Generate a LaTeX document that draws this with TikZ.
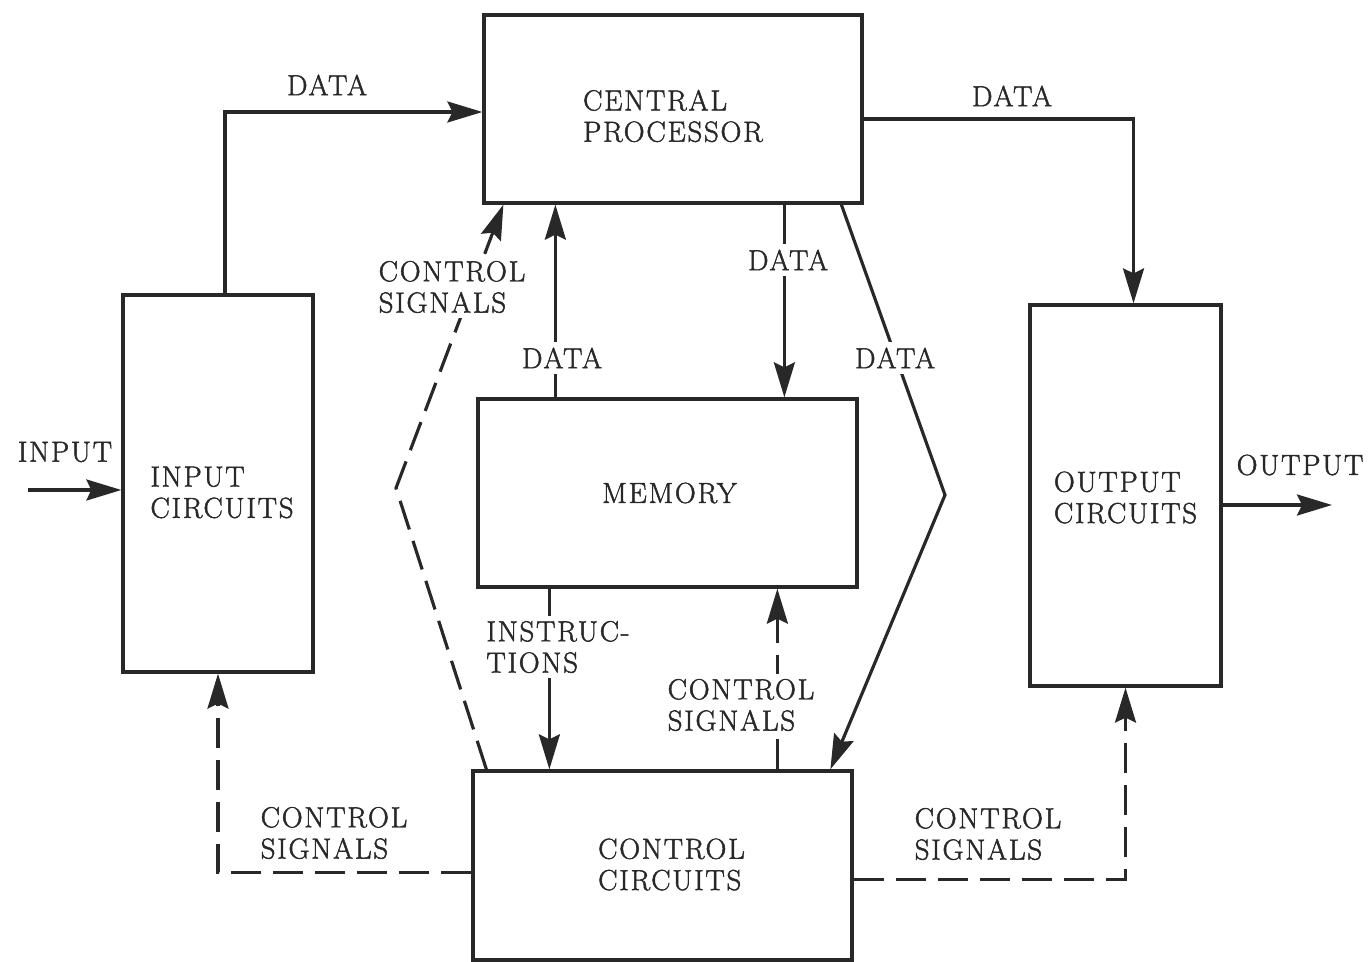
\documentclass[tikz,border=0pt]{standalone}
\usepackage{fontspec}
\setmainfont{Latin Modern Roman}[LetterSpace=6,FakeBold=1.6]
\usetikzlibrary{arrows.meta,calc}
\definecolor{ink}{RGB}{40,40,40}
\begin{document}
\begin{tikzpicture}[x=0.02cm,y=-0.02cm,
  every node/.style={text=ink,font=\fontsize{16.5}{17.8}\selectfont},
  blk/.style={draw=ink,line width=1.9pt,inner sep=0pt},
  txt/.style={inner sep=0pt,align=left},
  wire/.style={draw=ink,line width=1.8pt},
  arr/.style={wire,-{Stealth[length=0.7cm,width=0.42cm,inset=0.1cm]}},
  ctl/.style={dash pattern=on 0.6cm off 0.24cm},
  lbl/.style={fill=white,inner sep=3pt,align=left}]
\useasboundingbox (0,0) rectangle (1372,962);

% blocks
\node[blk,minimum width=7.56cm,minimum height=3.76cm] (cp)   at (673,109)     {};
\node[blk,minimum width=3.8cm, minimum height=7.54cm] (in)   at (218,483.5)   {};
\node[blk,minimum width=7.58cm,minimum height=3.76cm] (mem)  at (667.5,493)   {};
\node[blk,minimum width=3.82cm,minimum height=7.62cm] (out)  at (1125.5,495.5) {};
\node[blk,minimum width=7.58cm,minimum height=3.78cm] (ctrl) at (662.5,865.5) {};

% block titles
\node[txt] (cpt)   at ($(cp)+(0,7)$)    {CENTRAL\\PROCESSOR};
\node[txt] (int)   at ($(in)+(4,9)$)    {INPUT\\CIRCUITS};
\node[txt] (memt)  at ($(mem)+(2,0)$)   {MEMORY};
\node[txt] (outt)  at ($(out)+(0,2)$)   {OUTPUT\\CIRCUITS};
\node[txt] (ctrlt) at ($(ctrl)+(9,-1)$) {CONTROL\\CIRCUITS};

% connection points
\coordinate (inp)  at (28,490);
\coordinate (outp) at (1332,505);
\coordinate (i1) at ($(in.north)+(7,0)$);
\coordinate (c0) at ($(cp.south west)+(21,0)$);
\coordinate (m1) at ($(mem.north west)+(79,0)$);
\coordinate (c1) at ($(cp.south west)+(302,0)$);
\coordinate (c2) at ($(cp.south west)+(359,0)$);
\coordinate (d1) at (396,488);
\coordinate (d2) at (945,495);
\coordinate (k1) at ($(ctrl.north west)+(15,0)$);
\coordinate (k2) at ($(ctrl.north west)+(359,0)$);
\coordinate (m2) at ($(mem.south west)+(73,0)$);
\coordinate (k3) at ($(ctrl.north west)+(306,0)$);
\coordinate (k4) at ($(ctrl.west)+(0,7)$);
\coordinate (k5) at ($(ctrl.east)+(0,14)$);
\coordinate (o1) at ($(out.south)+(0,0)$);
\coordinate (o2) at ($(out.north)+(8,0)$);
\coordinate (c3) at ($(cp.east)+(0,10)$);

% data paths
\draw[arr] (inp) -- (inp -| in.west);
\draw[arr] (outp -| out.east) -- (outp);
\draw[arr] (i1) |- ($(cp.west)+(0,3)$);
\draw[arr] (c3) -| (o2);
\draw[arr] (m1) -- (m1 |- cp.south);
\draw[arr] (c1) -- (c1 |- mem.north);
\draw[arr] (c2) -- (d2) -- (k2);
\draw[arr] (m2) -- (m2 |- ctrl.north);

% control signal paths
\draw[arr,ctl] (k1) -- (d1) -- (c0);
\draw[arr,ctl] (k3) -- (k3 |- mem.south);
\draw[arr,ctl] (k4) -| (in.south);
\draw[arr,ctl] (k5) -| (o1);

% labels
\node[lbl] (l1)  at (327,85)   {DATA};
\node[lbl] (l2)  at (1012,96)  {DATA};
\node[lbl] (l3)  at (65,452)   {INPUT};
\node[lbl] (l4)  at (1300,465) {OUTPUT};
\node[lbl] (l5)  at (562,358)  {DATA};
\node[lbl] (l6)  at (788,260)  {DATA};
\node[lbl] (l7)  at (895,358)  {DATA};
\node[lbl] (l8)  at (452,287)  {CONTROL\\SIGNALS};
\node[lbl] (l9)  at (558,647)  {INSTRUC-\\TIONS};
\node[lbl] (l10) at (741,705)  {CONTROL\\SIGNALS};
\node[lbl] (l11) at (334,833)  {CONTROL\\SIGNALS};
\node[lbl] (l12) at (988,834)  {CONTROL\\SIGNALS};
\end{tikzpicture}
\end{document}
